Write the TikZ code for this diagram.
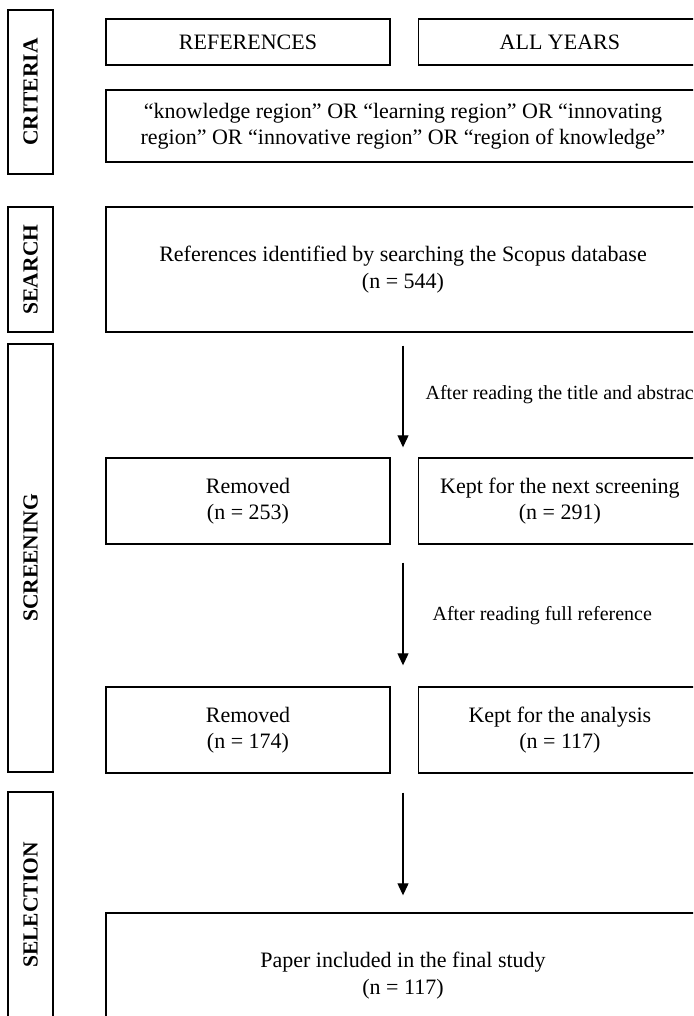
\documentclass[tikz,border=0pt]{standalone}
\usepackage{fontspec}
\setmainfont{Liberation Serif}
\usetikzlibrary{arrows.meta, positioning}

\begin{document}
\begin{tikzpicture}[
    x=1pt, y=-1pt,
    block/.style={rectangle, draw, line width=1.4pt, align=center, inner sep=2pt, font=\fontsize{22}{26.5}\selectfont},
    phase/.style={rectangle, draw, line width=1.4pt, rotate=90, minimum height=45pt, inner sep=0pt, font=\fontsize{21.5}{24}\selectfont\bfseries},
    flow/.style={line width=1.2pt, -{Triangle[length=12pt, width=11pt]}},
    note/.style={inner sep=0pt, font=\fontsize{20}{24}\selectfont}
]
    \useasboundingbox (0,0) rectangle (693,1016);
    \clip (0,0) rectangle (693,1016);

    % Criteria
    \node[phase, minimum width=164pt] (crit) at (30.5,92) {CRITERIA};
    \node[block, minimum width=284pt, minimum height=46pt] (refs) at (248,42) {REFERENCES};
    \node[block, minimum width=283pt, minimum height=46pt, right=27pt of refs] (years) {ALL YEARS};
    \node[block, minimum width=594pt, minimum height=72pt] (keys) at (403,126)
        {“knowledge region” OR “learning region” OR “innovating\\region” OR “innovative region” OR “region of knowledge”};

    % Search
    \node[phase, minimum width=125pt] (srchlab) at (30.5,269.5) {SEARCH};
    \node[block, minimum width=594pt, minimum height=125pt] (srch) at (403,269.5)
        {References identified by searching the Scopus database\\(n = 544)};

    % Screening
    \node[phase, minimum width=428pt] (screenlab) at (30.5,558) {SCREENING};
    \node[block, minimum width=284pt, minimum height=86pt] (rem1) at (248,501) {Removed\\(n = 253)};
    \node[block, minimum width=283pt, minimum height=86pt, right=27pt of rem1] (kept1) {Kept for the next screening\\(n = 291)};
    \node[block, minimum width=284pt, minimum height=86pt] (rem2) at (248,730) {Removed\\(n = 174)};
    \node[block, minimum width=283pt, minimum height=86pt, right=27pt of rem2] (kept2) {Kept for the analysis\\(n = 117)};

    % Selection
    \node[phase, minimum width=226pt] (sellab) at (30.5,905) {SELECTION};
    \node[block, minimum width=594pt, minimum height=125pt] (final) at (403,975.5)
        {Paper included in the final study\\(n = 117)};

    % Flow
    \draw[flow, shorten <=13pt, shorten >=10pt] (srch.south) -- (srch.south |- rem1.north)
        node[note, midway, right=22pt] {After reading the title and abstrac};
    \draw[flow, shorten <=18pt, shorten >=21pt] (srch.south |- rem1.south) -- (srch.south |- rem2.north)
        node[note, midway, right=29pt] {After reading full reference};
    \draw[flow, shorten <=19pt, shorten >=17pt] (final.north |- rem2.south) -- (final.north);
\end{tikzpicture}
\end{document}
